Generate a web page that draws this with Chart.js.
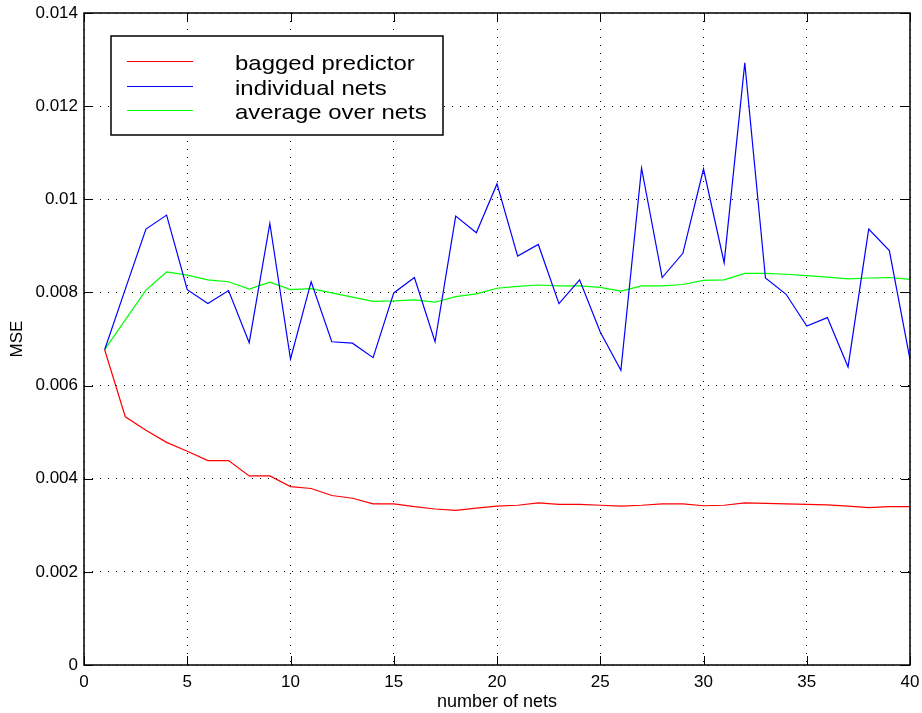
<!DOCTYPE html>
<html>
<head>
<meta charset="utf-8">
<script src="https://cdn.jsdelivr.net/npm/chart.js@4.4.1/dist/chart.umd.min.js"></script>
<style>
  html, body { margin: 0; padding: 0; background: #fff; }
  #wrap { width: 922px; height: 713px; }
</style>
</head>
<body>
<div id="wrap"><canvas id="c" width="922" height="713"></canvas></div>
<script>
// Number of nets in the ensemble
const nets = [1, 2, 3, 4, 5, 6, 7, 8, 9, 10,
              11, 12, 13, 14, 15, 16, 17, 18, 19, 20,
              21, 22, 23, 24, 25, 26, 27, 28, 29, 30,
              31, 32, 33, 34, 35, 36, 37, 38, 39, 40];

// MSE of the bagged predictor
const baggedMSE = [0.00677, 0.00533, 0.00504, 0.00478, 0.00459, 0.00439, 0.00439, 0.00406, 0.00406, 0.00383,
                   0.00379, 0.00364, 0.00358, 0.00346, 0.00346, 0.00340, 0.00335, 0.00332, 0.00337, 0.00341,
                   0.00343, 0.00348, 0.00345, 0.00345, 0.00343, 0.00341, 0.00343, 0.00346, 0.00346, 0.00342,
                   0.00343, 0.00348, 0.00347, 0.00346, 0.00345, 0.00344, 0.00341, 0.00338, 0.00340, 0.00340];

// MSE of each individual net
const individualMSE = [0.00677, 0.00807, 0.00936, 0.00966, 0.00806, 0.00776, 0.00804, 0.00692, 0.00948, 0.00657,
                       0.00823, 0.00694, 0.00691, 0.00660, 0.00799, 0.00832, 0.00694, 0.00964, 0.00928, 0.01033,
                       0.00878, 0.00903, 0.00776, 0.00827, 0.00715, 0.00633, 0.01067, 0.00832, 0.00884, 0.01065,
                       0.00864, 0.01293, 0.00831, 0.00796, 0.00728, 0.00746, 0.00640, 0.00936, 0.00890, 0.00656];

// Running average of the individual nets' MSE
const averageMSE = [0.00677, 0.00741, 0.00805, 0.00844, 0.00837, 0.00827, 0.00823, 0.00807, 0.00822, 0.00806,
                    0.00808, 0.00799, 0.00790, 0.00781, 0.00782, 0.00784, 0.00779, 0.00791, 0.00797, 0.00809,
                    0.00813, 0.00816, 0.00814, 0.00814, 0.00811, 0.00803, 0.00814, 0.00814, 0.00817, 0.00826,
                    0.00827, 0.00841, 0.00841, 0.00839, 0.00836, 0.00833, 0.00829, 0.00831, 0.00832, 0.00828];

const seriesLabels = ['bagged predictor', 'individual nets', 'average over nets'];
const xTickLabels = ['0', '5', '10', '15', '20', '25', '30', '35', '40'];
const yTickLabels = ['0', '0.002', '0.004', '0.006', '0.008', '0.01', '0.012', '0.014'];

const FONT = '"Liberation Sans", Arial, Helvetica, sans-serif';

function pts(ys) { return nets.map((n, i) => ({ x: n, y: ys[i] })); }

// Frame around the plot with inward tick marks on all four sides, plus the boxed legend
const framePlugin = {
  id: 'frame',
  afterDatasetsDraw(chart) {
    const { ctx, chartArea: a, scales } = chart;
    const L = 9;
    ctx.save();
    ctx.strokeStyle = '#000';
    ctx.lineWidth = 1.5;
    ctx.strokeRect(a.left, a.top, a.right - a.left, a.bottom - a.top);
    ctx.lineWidth = 1;
    ctx.beginPath();
    scales.x.ticks.forEach(t => {
      const px = Math.round(scales.x.getPixelForValue(t.value)) + 0.5;
      ctx.moveTo(px, a.bottom); ctx.lineTo(px, a.bottom - L);
      ctx.moveTo(px, a.top); ctx.lineTo(px, a.top + L);
    });
    scales.y.ticks.forEach(t => {
      const py = Math.round(scales.y.getPixelForValue(t.value)) + 0.5;
      ctx.moveTo(a.left, py); ctx.lineTo(a.left + L, py);
      ctx.moveTo(a.right, py); ctx.lineTo(a.right - L, py);
    });
    ctx.stroke();

    // legend box
    const bx = a.left + 27, by = a.top + 23, bw = 332, bh = 99;
    ctx.fillStyle = '#fff';
    ctx.fillRect(bx, by, bw, bh);
    ctx.lineWidth = 1.5;
    ctx.strokeRect(bx, by, bw, bh);
    chart.data.datasets.forEach((ds, i) => {
      const ly = Math.round(by + 25 + i * 24.5) + 0.5;
      ctx.strokeStyle = ds.borderColor;
      ctx.lineWidth = 1.2;
      ctx.beginPath();
      ctx.moveTo(bx + 16, ly); ctx.lineTo(bx + 82, ly);
      ctx.stroke();
      ctx.save();
      ctx.translate(bx + 124, ly + 8);
      ctx.scale(1.14, 1);
      ctx.fillStyle = '#000';
      ctx.font = '21px ' + FONT;
      ctx.textBaseline = 'alphabetic';
      ctx.fillText(ds.label, 0, 0);
      ctx.restore();
    });
    ctx.restore();
  }
};

new Chart(document.getElementById('c'), {
  type: 'line',
  data: {
    datasets: [
      { label: seriesLabels[0], data: pts(baggedMSE), borderColor: '#ff0000' },
      { label: seriesLabels[1], data: pts(individualMSE), borderColor: '#0000ff' },
      { label: seriesLabels[2], data: pts(averageMSE), borderColor: '#00ff00' }
    ].map(d => Object.assign(d, { borderWidth: 1.2, pointRadius: 0, tension: 0, fill: false }))
  },
  options: {
    responsive: false,
    animation: false,
    layout: { padding: { left: 0, right: 12, top: 13, bottom: 0 } },
    plugins: { legend: { display: false }, tooltip: { enabled: false } },
    scales: {
      x: {
        type: 'linear', min: 0, max: 40,
        afterFit(s) { s.height = 48; s.paddingLeft = 0; s.paddingRight = 0; },
        ticks: {
          stepSize: 5, padding: 7, color: '#000', maxRotation: 0,
          font: { family: FONT, size: 17 },
          callback: (v, i) => xTickLabels[i]
        },
        grid: { color: '#000', lineWidth: 1, drawTicks: false },
        border: { display: false, dash: [1, 7] },
        title: { display: true, text: 'number of nets', color: '#000',
                 font: { family: FONT, size: 18 }, padding: { top: 0, bottom: 0 } }
      },
      y: {
        min: 0, max: 0.014,
        afterFit(s) { s.width = 84; s.paddingTop = 0; s.paddingBottom = 0; },
        ticks: {
          stepSize: 0.002, padding: 6, color: '#000',
          font: { family: FONT, size: 17 },
          callback: (v, i) => yTickLabels[i]
        },
        grid: { color: '#000', lineWidth: 1, drawTicks: false },
        border: { display: false, dash: [1, 7] },
        title: { display: true, text: 'MSE', color: '#000',
                 font: { family: FONT, size: 17 }, padding: { top: 7, bottom: 0 } }
      }
    }
  },
  plugins: [framePlugin]
});
</script>
</body>
</html>
